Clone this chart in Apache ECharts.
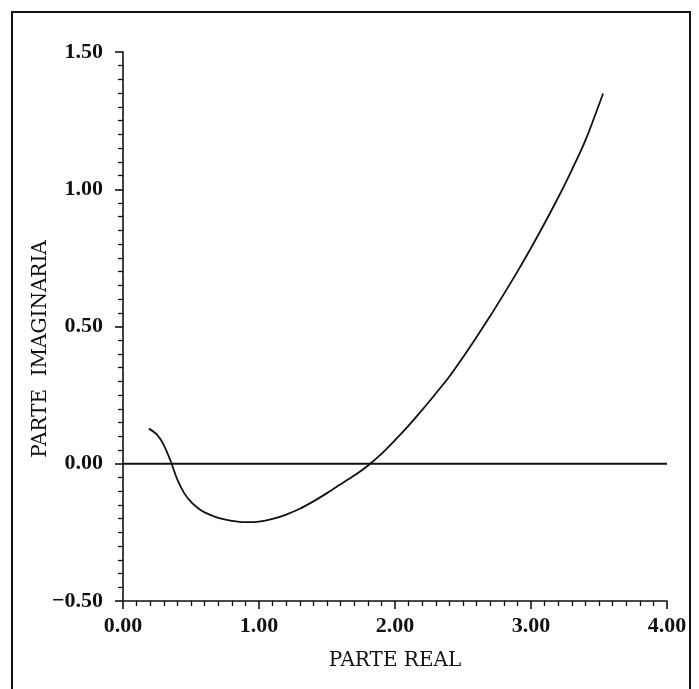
<!DOCTYPE html>
<html>
<head>
<meta charset="utf-8">
<script src="https://cdn.jsdelivr.net/npm/echarts@6/dist/echarts.min.js"></script>
<style>
  html, body { margin: 0; padding: 0; background: #fff; }
  #chart { width: 699px; height: 689px; }
</style>
</head>
<body>
<div id="chart"></div>
<script>
// Locus of the complex values: real part (x) vs imaginary part (y)
const realPart = [0.19, 0.25, 0.30, 0.35, 0.40, 0.45, 0.50, 0.55, 0.60, 0.70, 0.80, 0.90, 1.00, 1.10, 1.20, 1.30, 1.40, 1.50, 1.60, 1.70, 1.80, 1.90, 2.00, 2.10, 2.20, 2.30, 2.40, 2.50, 2.60, 2.70, 2.80, 2.90, 3.00, 3.10, 3.20, 3.30, 3.40, 3.53];
const imagPart = [0.128, 0.106, 0.068, 0.010, -0.058, -0.107, -0.139, -0.161, -0.177, -0.197, -0.208, -0.213, -0.211, -0.201, -0.185, -0.164, -0.137, -0.107, -0.075, -0.043, -0.007, 0.036, 0.086, 0.139, 0.196, 0.256, 0.318, 0.388, 0.462, 0.538, 0.618, 0.700, 0.786, 0.876, 0.970, 1.070, 1.178, 1.349];

// Reference line along the real axis (imaginary part = 0)
const zeroLineX = [0, 4];
const zeroLineY = [0, 0];

const xTicks = { min: 0, max: 4, step: 1 };
const yTicks = { min: -0.5, max: 1.5, step: 0.5 };

const xName = 'PARTE REAL';
const yName = 'PARTE  IMAGINARIA';

const FONT = '"Liberation Serif", "DejaVu Serif", serif';
const NAME_FONT = '"DejaVu Serif", "Liberation Serif", serif';
const INK = '#111';

const fmt = v => (v < 0 ? '\u2212' + Math.abs(v).toFixed(2) : v.toFixed(2));

const chart = echarts.init(document.getElementById('chart'), null, { renderer: 'canvas' });

const axisCommon = {
  type: 'value',
  splitLine: { show: false },
  axisLine: { show: true, onZero: false, lineStyle: { color: INK, width: 1.6 } },
  axisTick: { show: true, length: 8, lineStyle: { color: INK, width: 1.6 } },
  minorTick: { show: true, splitNumber: 10, length: 5, lineStyle: { color: INK, width: 1.3 } },
  axisLabel: { color: INK, fontFamily: FONT, fontSize: 22, fontWeight: 'bold', formatter: fmt }
};

chart.setOption({
  animation: false,
  backgroundColor: '#fff',
  grid: { left: 123, right: 32, top: 52, bottom: 88 },
  xAxis: Object.assign({}, axisCommon, {
    min: xTicks.min, max: xTicks.max, interval: xTicks.step,
    name: xName, nameLocation: 'middle', nameGap: 50,
    nameTextStyle: { color: INK, fontFamily: NAME_FONT, fontSize: 20 },
    axisLabel: Object.assign({}, axisCommon.axisLabel, { margin: 14 })
  }),
  yAxis: Object.assign({}, axisCommon, {
    min: yTicks.min, max: yTicks.max, interval: yTicks.step,
    axisLabel: Object.assign({}, axisCommon.axisLabel, { margin: 20 })
  }),
  graphic: [
    {
      type: 'rect', silent: true,
      shape: { x: 12, y: 12, width: 678, height: 700 },
      style: { fill: 'none', stroke: INK, lineWidth: 2 }
    },
    {
      type: 'text', silent: true,
      x: 41, y: 349, rotation: Math.PI / 2,
      style: {
        text: yName, fill: INK, font: '20px ' + NAME_FONT,
        align: 'center', verticalAlign: 'middle'
      }
    }
  ],
  series: [
    {
      type: 'line',
      data: zeroLineX.map((x, i) => [x, zeroLineY[i]]),
      showSymbol: false,
      lineStyle: { color: INK, width: 1.8 }
    },
    {
      type: 'line',
      data: realPart.map((x, i) => [x, imagPart[i]]),
      smooth: 0.3,
      showSymbol: false,
      lineStyle: { color: INK, width: 1.8 }
    }
  ]
});
</script>
</body>
</html>
